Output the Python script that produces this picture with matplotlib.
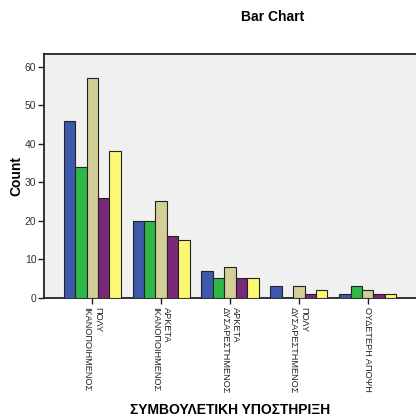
import numpy as np
import matplotlib.pyplot as plt

# SPSS style clustered bar chart
categories = ["ΠΟΛΥ\nΙΚΑΝΟΠΟΙΗΜΕΝΟΣ", "ΑΡΚΕΤΑ\nΙΚΑΝΟΠΟΙΗΜΕΝΟΣ", "ΑΡΚΕΤΑ\nΔΥΣΑΡΕΣΤΗΜΕΝΟΣ",
              "ΠΟΛΥ\nΔΥΣΑΡΕΣΤΗΜΕΝΟΣ", "ΟΥΔΕΤΕΡΗ ΑΠΟΨΗ"]
series1 = [46, 20, 7, 3, 1]
series2 = [34, 20, 5, 0, 3]
series3 = [57, 25, 8, 3, 2]
series4 = [26, 16, 5, 1, 1]
series5 = [38, 15, 5, 2, 1]
yticks = [0, 10, 20, 30, 40, 50, 60]

all_series = [series1, series2, series3, series4, series5]
colors = ["#3E58AC", "#2EB848", "#D3CE97", "#7A287A", "#FBF873"]

plt.rcParams['font.family'] = ['Liberation Sans', 'DejaVu Sans']

fig = plt.figure(figsize=(4.16, 4.16), dpi=100)
ax = fig.add_axes([44 / 416, 1 - 297.5 / 416, 1 - 44 / 416, (297.5 - 53.5) / 416])
ax.set_facecolor("#F0F0F0")

x = np.arange(len(categories))
w = 0.166
for i, (vals, c) in enumerate(zip(all_series, colors)):
    ax.bar(x + (i - 2) * w, vals, width=w, color=c, edgecolor="#222222", linewidth=0.8, zorder=3)

ax.set_xlim(-0.70, 4.70)
ax.set_ylim(0, 63.5)
ax.set_yticks(yticks)
ax.set_xticks(x)
ax.set_xticklabels(categories, rotation=270, fontsize=6.6, multialignment="left", linespacing=1.2)
ax.tick_params(axis="y", labelsize=7.5, length=4.5, width=1, pad=1, colors="#222222")
ax.tick_params(axis="x", length=4.5, width=1, pad=2, colors="#222222")
for lab in ax.get_yticklabels():
    lab.set_color("#333333")
for s in ["left", "bottom", "top"]:
    ax.spines[s].set_linewidth(1.3)
    ax.spines[s].set_color("#222222")
ax.spines["right"].set_visible(False)

ax.set_ylabel("Count", fontsize=10, fontweight="bold", labelpad=1)
fig.text(230 / 416, 1 - 410 / 416, "ΣΥΜΒΟΥΛΕΤΙΚΗ ΥΠΟΣΤΗΡΙΞΗ", ha="center", va="center",
         fontsize=10, fontweight="bold")
fig.text(273 / 416, 1 - 17 / 416, "Bar Chart", ha="center", va="center",
         fontsize=10, fontweight="bold")

plt.savefig("out.png", dpi=100)
